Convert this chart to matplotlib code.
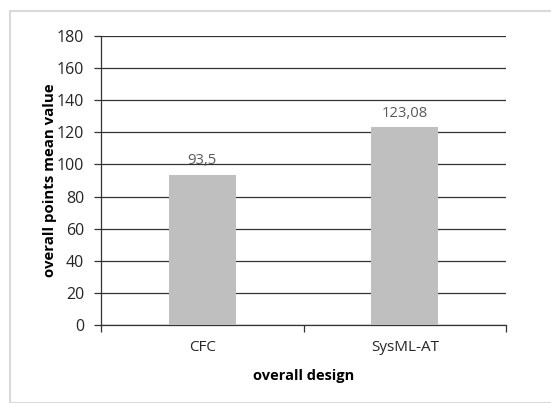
import matplotlib.pyplot as plt
from matplotlib.patches import Rectangle

categories = ["CFC", "SysML-AT"]
values = [93.5, 123.08]
value_labels = ["93,5", "123,08"]
y_ticks = [0, 20, 40, 60, 80, 100, 120, 140, 160, 180]

plt.rcParams['font.family'] = ['Open Sans', 'DejaVu Sans']

W, H = 551, 403
fig = plt.figure(figsize=(W / 100, H / 100), dpi=100)
fig.patch.set_facecolor('white')

# light frame around the chart area
fig.patches.append(Rectangle((10 / W, 0), 1.2, 1 - 11 / H, transform=fig.transFigure,
                             fill=False, edgecolor='#d9d9d9', linewidth=1.5))

ax = fig.add_axes([101 / W, 1 - 325 / H, 405 / W, 289 / H])
x = range(len(categories))
ax.bar(x, values, width=0.33, color='#bfbfbf', zorder=3)

for xi, v, lab in zip(x, values, value_labels):
    ax.text(xi, v + 4, lab, ha='center', va='bottom', fontsize=10.7, color='#595959')

ax.set_xlim(-0.5, 1.5)
ax.set_ylim(0, 180)
ax.set_yticks(y_ticks)
ax.yaxis.grid(True, color='#333333', linewidth=0.9, zorder=0)
ax.set_axisbelow(True)

ax.set_xticks([-0.5, 0.5, 1.5])
ax.set_xticklabels([])
ax.set_xticks(list(x), minor=True)
ax.set_xticklabels(categories, minor=True)
ax.tick_params(axis='x', which='major', length=5, color='#333333', width=0.9)
ax.tick_params(axis='x', which='minor', length=0, pad=11, labelsize=11, labelcolor='#262626')
ax.tick_params(axis='y', length=5, color='#333333', width=0.9, labelsize=11.5,
               labelcolor='#262626', pad=7)

for s in ['top', 'right']:
    ax.spines[s].set_visible(False)
ax.spines['left'].set_color('#333333')
ax.spines['bottom'].set_color('#333333')
ax.spines['left'].set_linewidth(0.9)
ax.spines['bottom'].set_linewidth(0.9)

ax.set_xlabel("overall design", fontsize=10.5, fontweight='bold', labelpad=10)
ax.set_ylabel("overall points mean value", fontsize=10.8, fontweight='bold', labelpad=0)

fig.savefig("out.png", dpi=100)
